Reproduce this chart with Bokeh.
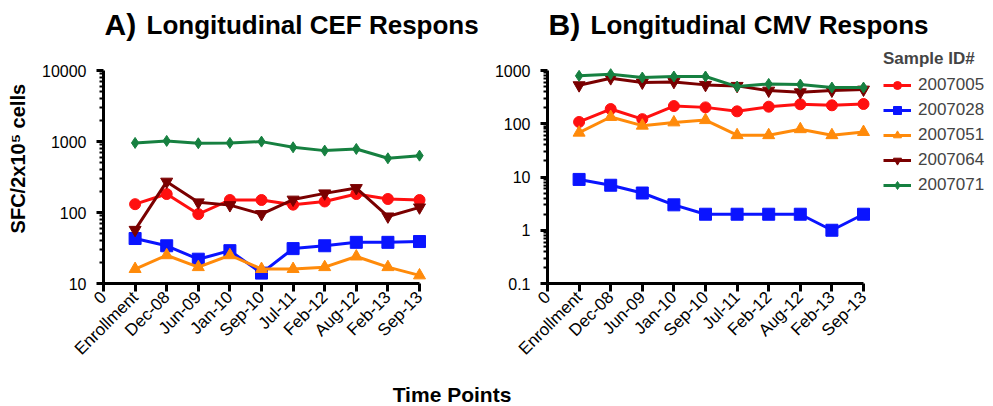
import math
from bokeh.plotting import figure
from bokeh.models import Legend, LegendItem, FixedTicker, Div, Label
from bokeh.layouts import row, column
from bokeh.embed import file_html
from bokeh.resources import INLINE

# ---------------- data ----------------
time_labels = ["0", "Enrollment", "Dec-08", "Jun-09", "Jan-10", "Sep-10",
               "Jul-11", "Feb-12", "Aug-12", "Feb-13", "Sep-13"]
time_idx = [1, 2, 3, 4, 5, 6, 7, 8, 9, 10]

sample_ids = ["2007005", "2007028", "2007051", "2007064", "2007071"]

cef_2007005 = [131, 182, 95, 150, 150, 129, 143, 182, 155, 150]
cef_2007028 = [43, 34, 22, 29, 14, 31, 34, 38, 38, 39]
cef_2007051 = [16, 25, 17, 25, 16, 16, 17, 24, 17, 13]
cef_2007064 = [57, 272, 139, 127, 95, 152, 186, 221, 88, 118]
cef_2007071 = [955, 1019, 944, 955, 996, 829, 744, 785, 580, 632]

cmv_2007005 = [108, 189, 122, 215, 203, 171, 209, 232, 222, 235]
cmv_2007028 = [9, 7, 5, 3, 2, 2, 2, 2, 1, 2]
cmv_2007051 = [68, 134, 92, 106, 117, 61, 61, 79, 61, 70]
cmv_2007064 = [529, 717, 594, 611, 537, 514, 419, 390, 419, 438]
cmv_2007071 = [793, 853, 738, 771, 771, 499, 560, 545, 478, 478]

cef_ticks = [10, 100, 1000, 10000]
cef_tick_labels = ["10", "100", "1000", "10000"]
cmv_ticks = [0.1, 1, 10, 100, 1000]
cmv_tick_labels = ["0.1", "1", "10", "100", "1000"]

colors = ["#ff1010", "#0a14ff", "#ff8a0a", "#7a0000", "#168040"]
markers = ["circle", "square", "triangle", "inverted_triangle", "diamond"]
msizes = [11, 12, 12, 12, 11]

FONT = "Liberation Sans"

# ---------------- layout geometry (pixels) ----------------
UNIT_X = 31.6          # px per time step
AXIS_TOP = 70          # y of the top major tick (page px)
AXIS_BOTTOM = 283      # y of x axis (page px)
FRAME_TOP = 0          # frames extend upward to hold titles / legend
FRAME_H = AXIS_BOTTOM - FRAME_TOP


def minor_ticks(majors):
    out = []
    for m in majors[:-1]:
        for k in range(2, 10):
            out.append(m * k)
    return out


def make_panel(series, yticks, ylabels, left_border, right_border, frame_w):
    decades = math.log10(yticks[-1] / yticks[0])
    px_per_dec = (AXIS_BOTTOM - AXIS_TOP) / decades
    y_end = yticks[-1] * 10 ** ((AXIS_TOP - FRAME_TOP) / px_per_dec)
    p = figure(frame_width=frame_w, frame_height=FRAME_H,
               x_range=(0, frame_w / UNIT_X),
               y_range=(yticks[0], y_end), y_axis_type="log",
               output_backend="svg", toolbar_location=None,
               min_border_left=left_border, min_border_right=right_border,
               min_border_top=FRAME_TOP, min_border_bottom=95)
    p.outline_line_color = None
    p.xgrid.visible = False
    p.ygrid.visible = False

    renderers = []
    for vals, c, m, s in zip(series, colors, markers, msizes):
        lr = p.line(time_idx, vals, line_color=c, line_width=3)
        sr = p.scatter(time_idx, vals, marker=m, size=s, fill_color=c, line_color=c)
        renderers.append((lr, sr))

    xa = p.xaxis[0]
    xa.ticker = FixedTicker(ticks=list(range(len(time_labels))))
    xa.major_label_overrides = {i: t for i, t in enumerate(time_labels)}
    xa.bounds = (0, len(time_labels) - 1)
    xa.axis_line_width = 3
    xa.major_tick_line_width = 3
    xa.major_tick_out = 8
    xa.major_tick_in = 0
    xa.minor_tick_out = 0
    xa.major_label_orientation = math.pi / 4
    xa.major_label_text_font = FONT
    xa.major_label_text_font_size = "17px"
    xa.major_label_text_color = "black"
    xa.major_label_standoff = 3

    ya = p.yaxis[0]
    ya.ticker = FixedTicker(ticks=yticks, minor_ticks=minor_ticks(yticks))
    ya.major_label_overrides = {v: t for v, t in zip(yticks, ylabels)}
    ya.bounds = (yticks[0], yticks[-1])
    ya.axis_line_width = 3
    ya.major_tick_line_width = 3
    ya.major_tick_out = 7
    ya.major_tick_in = 0
    ya.minor_tick_line_width = 2
    ya.minor_tick_out = 4
    ya.minor_tick_in = 0
    ya.major_label_text_font = FONT
    ya.major_label_text_font_size = "16px"
    ya.major_label_text_color = "black"
    ya.major_label_standoff = 10
    return p, renderers


def add_title(p, letter, rest):
    base = AXIS_BOTTOM - 24
    p.add_layout(Label(x=1, y=base, x_units="screen", y_units="screen", text=letter,
                       text_font=FONT, text_font_size="30px", text_font_style="bold",
                       text_baseline="alphabetic", text_align="left", text_color="black"))
    p.add_layout(Label(x=43, y=base, x_units="screen", y_units="screen", text=rest,
                       text_font=FONT, text_font_size="26px", text_font_style="bold",
                       text_baseline="alphabetic", text_align="left", text_color="black"))


pA, _ = make_panel([cef_2007005, cef_2007028, cef_2007051, cef_2007064, cef_2007071],
                   cef_ticks, cef_tick_labels, 103, 5, 377)
add_title(pA, "A)", "Longitudinal CEF Respons")
pA.yaxis[0].axis_label = "SFC/2x10\u2075 cells" + "\u00a0" * 6
pA.yaxis[0].axis_label_text_font = FONT
pA.yaxis[0].axis_label_text_font_size = "20px"
pA.yaxis[0].axis_label_text_font_style = "bold"
pA.yaxis[0].axis_label_text_color = "black"
pA.yaxis[0].axis_label_standoff = 10

pB, rendsB = make_panel([cmv_2007005, cmv_2007028, cmv_2007051, cmv_2007064, cmv_2007071],
                        cmv_ticks, cmv_tick_labels, 62, 0, 443)
add_title(pB, "B)", "Longitudinal CMV Respons")

items = [LegendItem(label=sid, renderers=[lr, sr]) for sid, (lr, sr) in zip(sample_ids, rendsB)]
legend = Legend(items=items, location=(327, 79), title="Sample ID#",
                title_text_font=FONT, title_text_font_size="17px", title_text_font_style="bold",
                label_text_font=FONT, label_text_font_size="17px",
                glyph_width=28, glyph_height=20, label_height=20, spacing=5,
                padding=9, margin=0, border_line_alpha=0, background_fill_alpha=0,
                label_standoff=7, title_standoff=6)
pB.add_layout(legend)

xlabel = Div(text="Time Points", width=894, height=23,
             styles={"text-align": "center", "font-family": FONT, "font-weight": "bold",
                     "font-size": "21px", "line-height": "23px", "color": "black"})

layout = column(row(pA, pB, spacing=0), xlabel, spacing=0)

open("out.html", "w").write(file_html(layout, INLINE))
